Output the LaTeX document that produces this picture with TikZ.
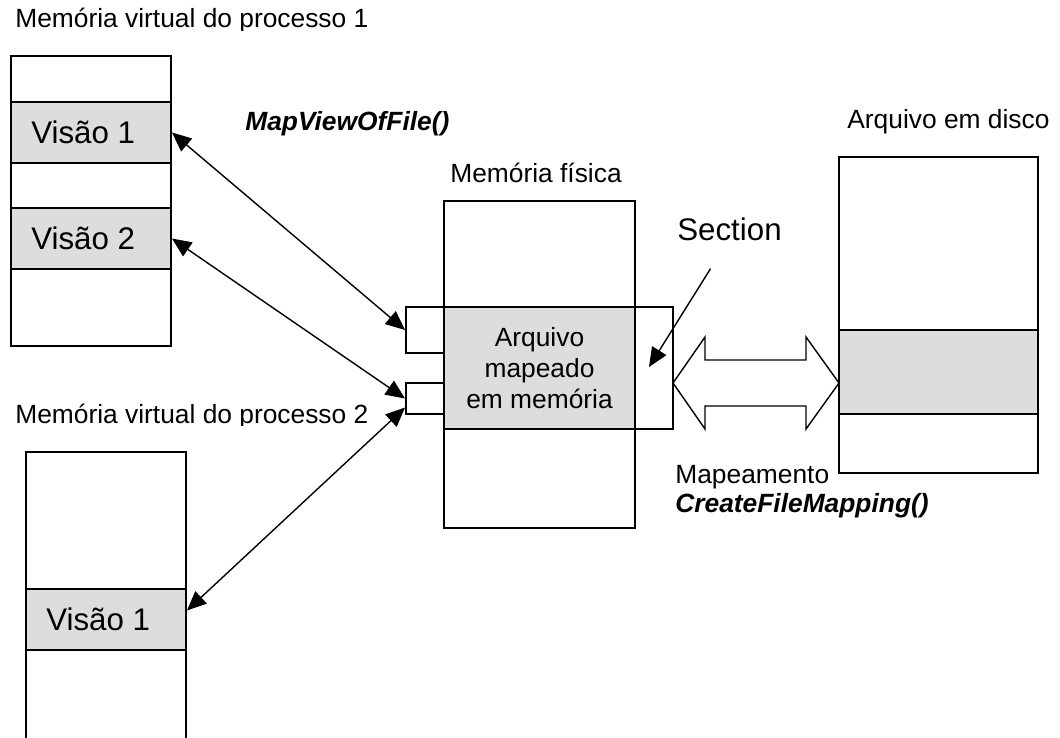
\documentclass[tikz,border=0pt]{standalone}
\usepackage{fontspec}
\setmainfont{Liberation Sans}
\usetikzlibrary{arrows.meta}
\definecolor{cellgray}{RGB}{221,221,221}

\begin{document}
\begin{tikzpicture} % mapeamento de arquivo em memoria
  [
    x=0.02cm, y=-0.02cm,
    % estilos das celulas e dos textos
    cell/.style={draw, line width=1.1pt, inner sep=0pt, fill=white},
    visao/.style={cell, fill=cellgray, font=\fontsize{17.8}{21}\selectfont},
    lbl/.style={inner sep=0pt, anchor=base west, font=\fontsize{15}{17}\selectfont},
    func/.style={lbl, font=\fontsize{15}{17}\selectfont\bfseries\itshape},
    map/.style={{Triangle[length=11pt,width=9.5pt]}-{Triangle[length=11pt,width=9.5pt]}, line width=0.8pt}
  ]
  \useasboundingbox (0,0) rectangle (1060,737);
  \clip (0,0) rectangle (1060,737);

  % processo 1
  \begin{scope}
    \clip (0,0) rectangle (400,30);
    \node[lbl] (t1) at (15,28) {Memória virtual do processo 1};
  \end{scope}
  \node[cell, minimum width=3.2cm, minimum height=0.92cm] (p1a) at (91,79) {};
  \node[visao, minimum width=3.2cm, minimum height=1.22cm] (p1v1) at (91,132.5) {Visão 1\hspace*{0.5em}};
  \node[cell, minimum width=3.2cm, minimum height=0.9cm] (p1b) at (91,185.5) {};
  \node[visao, minimum width=3.2cm, minimum height=1.22cm] (p1v2) at (91,238.5) {Visão 2\hspace*{0.5em}};
  \node[cell, minimum width=3.2cm, minimum height=1.54cm] (p1c) at (91,307.5) {};

  % processo 2
  \begin{scope}
    \clip (0,395) rectangle (400,425);
    \node[lbl] (t2) at (15,423) {Memória virtual do processo 2};
  \end{scope}
  \node[cell, minimum width=3.2cm, minimum height=2.74cm] (p2a) at (106,520.5) {};
  \node[visao, minimum width=3.2cm, minimum height=1.22cm] (p2v1) at (106,619.5) {Visão 1\hspace*{0.5em}};
  \node[cell, minimum width=3.2cm, minimum height=2.2cm] (p2b) at (106,705) {};

  % memoria fisica
  \node[lbl] (tfis) at (450,182) {Memória física};
  \node[cell, minimum width=3.82cm, minimum height=2.12cm] (fa) at (539.5,254) {};
  \node[cell, fill=cellgray, minimum width=3.82cm, minimum height=2.44cm,
        align=center, font=\fontsize{15}{17.5}\selectfont] (fsec) at (539.5,368) {Arquivo\\mapeado\\em memória};
  \node[cell, minimum width=3.82cm, minimum height=1.98cm] (fb) at (539.5,478.5) {};
  \node[cell, minimum width=0.76cm, minimum height=0.92cm] (boxA) at (425,330) {};
  \node[cell, minimum width=0.76cm, minimum height=0.62cm] (boxB) at (425,398.5) {};
  \node[cell, minimum width=0.76cm, minimum height=2.44cm] (boxR) at (654,368) {};

  % arquivo em disco
  \node[lbl] (tdisk) at (847,128) {Arquivo em disco};
  \node[cell, minimum width=3.98cm, minimum height=3.46cm] (da) at (938.5,243.5) {};
  \node[cell, fill=cellgray, minimum width=3.98cm, minimum height=1.68cm] (dsec) at (938.5,372) {};
  \node[cell, minimum width=3.98cm, minimum height=1.18cm] (db) at (938.5,443.5) {};

  % textos soltos
  \node[func] (tmap) at (245,130) {MapViewOfFile()};
  \node[lbl, font=\fontsize{17.8}{21}\selectfont] (tsec) at (677,240) {Section};
  \node[lbl] (tmp) at (675,483) {Mapeamento};
  \node[func] (tcfm) at (675,512) {CreateFileMapping()};

  % visoes ligadas a section
  \draw[map] (p1v1.east) -- (boxA.west);
  \draw[map] (p1v2.east) -- (boxB.west);
  \draw[map] ([shift={(0,-9)}]p2v1.east) -- ([shift={(0,9)}]boxB.west);
  \draw[-{Triangle[length=11pt,width=9.5pt]}, line width=0.8pt]
    ([shift={(-19,28)}]tsec.south) -- ([shift={(-5,-1)}]boxR.center);

  % seta dupla entre section e disco
  \coordinate (mL) at (673,383);
  \coordinate (mR) at (839,383);
  \draw[line width=0.8pt, fill=white] (mL) -- ++(32,-46) -- ++(0,23) -- ++(101,0) -- ++(0,-23)
    -- (mR) -- ++(-33,46) -- ++(0,-23) -- ++(-101,0) -- ++(0,23) -- cycle;
\end{tikzpicture}
\end{document}
